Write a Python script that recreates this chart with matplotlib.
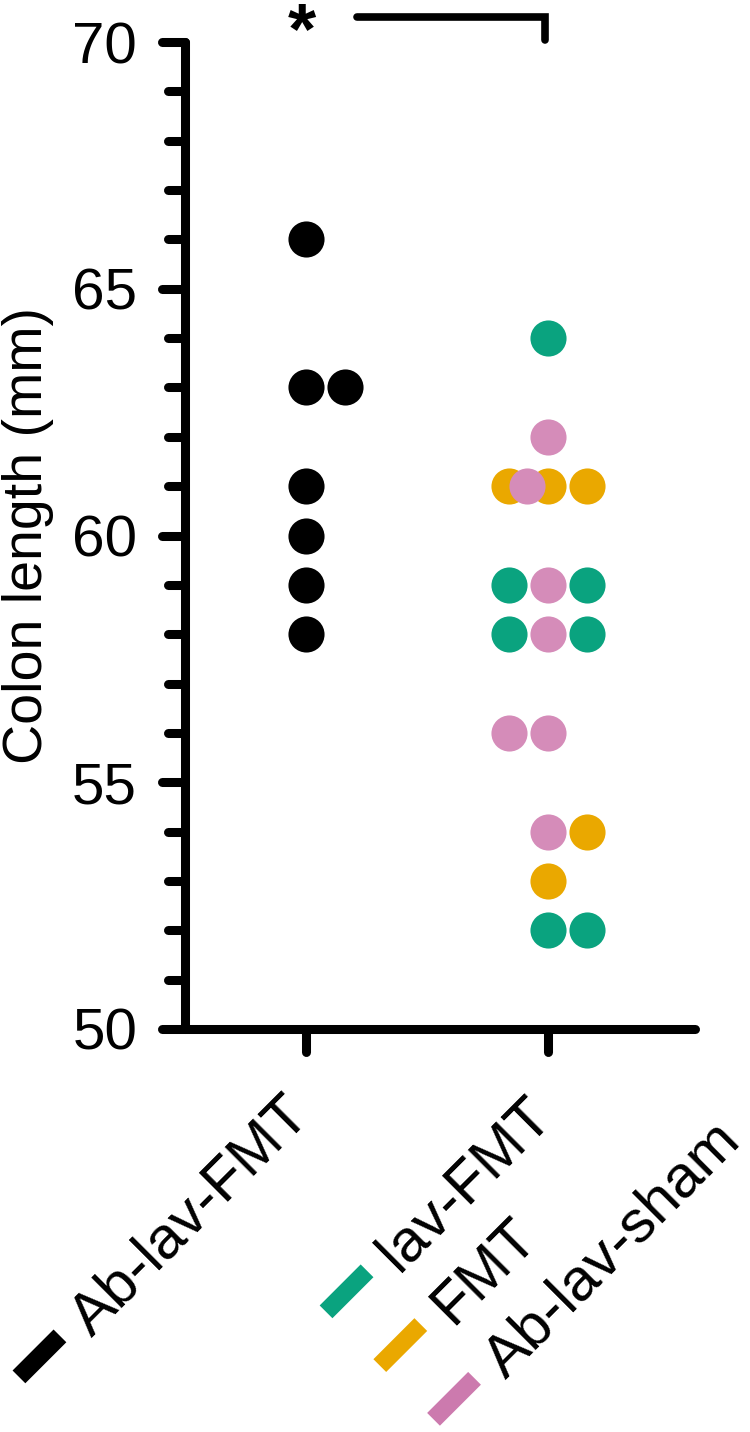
import numpy as np
import matplotlib
matplotlib.use("Agg")
import matplotlib.pyplot as plt
from matplotlib.lines import Line2D
from matplotlib.markers import MarkerStyle, TICKLEFT, TICKDOWN
from matplotlib.transforms import IdentityTransform

plt.rcParams['font.family'] = ['Liberation Sans', 'DejaVu Sans']

# groups on the x axis
groups = ["Ab-lav-FMT", "mix"]

# Ab-lav-FMT (black), group 0
ablav_vals = [66, 63, 63, 61, 60, 59, 58]
ablav_slot = [0, 0, 1, 0, 0, 0, 0]

# group 1 contains three treatments
lav_vals = [64, 59, 59, 58, 58, 52, 52]
lav_slot = [0, -1, 1, -1, 1, 0, 1]
fmt_vals = [61, 61, 61, 54, 53]
fmt_slot = [-1, 0, 1, 1, 0]
sham_vals = [62, 61, 59, 58, 56, 56, 54]
sham_slot = [0, -0.55, 0, 0, -1, 0, 0]

c_black = "#000000"
c_green = "#0AA37F"
c_orange = "#EAA800"
c_pink = "#D58CB9"

W, H = 750, 1432
fig = plt.figure(figsize=(W / 100, H / 100), dpi=100)
ax = fig.add_axes([185 / W, 1 - 1029 / H, 510 / W, 987 / H])

step = 0.161
msize = 26 ** 2

def draw(group, vals, slots, color):
    xs = [group + s * step for s in slots]
    ax.scatter(xs, vals, s=msize, color=color, linewidths=0, zorder=3, clip_on=False)

draw(0, ablav_vals, ablav_slot, c_black)
draw(1, lav_vals, lav_slot, c_green)
draw(1, fmt_vals, fmt_slot, c_orange)
draw(1, sham_vals, sham_slot, c_pink)

ax.set_xlim(-0.5, 1.607)
ax.set_ylim(50, 70)

for s in ["top", "right"]:
    ax.spines[s].set_visible(False)
for s in ["left", "bottom"]:
    ax.spines[s].set_linewidth(6.5)
    ax.spines[s].set_capstyle("round")

ax.set_yticks([50, 55, 60, 65, 70])
ax.set_yticks(np.arange(50, 71, 1), minor=True)
ax.set_xticks([0, 1])
ax.set_xticklabels([])
ax.tick_params(axis="y", which="major", length=16.5, width=6.5, pad=18, labelsize=42)
ax.tick_params(axis="y", which="minor", length=12, width=6.5)
ax.tick_params(axis="x", which="major", length=16.5, width=6.5)

for t in ax.yaxis.get_ticklines(minor=False) + ax.yaxis.get_ticklines(minor=True):
    t.set_marker(MarkerStyle(TICKLEFT, capstyle="round"))
for t in ax.xaxis.get_ticklines():
    t.set_marker(MarkerStyle(TICKDOWN, capstyle="round"))

ax.set_ylabel("Colon length (mm)", fontsize=40, va="center")
ax.yaxis.set_label_coords(-0.308, 0.5)

# significance bracket
ax.plot([0.21, 0.988, 0.988], [70.5, 70.5, 70.05], color="black", lw=5.5,
        solid_capstyle="round", solid_joinstyle="miter", clip_on=False)
ax.text(-0.017, 69.78, "*", fontsize=52, fontweight="bold", ha="center",
        va="baseline", clip_on=False)

# rotated category labels with colour bars
u = np.array([1, 1]) / np.sqrt(2)
d = np.array([1, -1]) / np.sqrt(2)
label_rows = [
    (0, -420, 0, "Ab-lav-FMT", c_black),
    (1, -328, 0, "lav-FMT", c_green),
    (1, -328, 1, "FMT", c_orange),
    (1, -328, 2, "Ab-lav-sham", "#CC7AAE"),
]
for g, along, row, txt, col in label_rows:
    tick = ax.transData.transform((g, 50))
    c = tick + along * u + (43 + 76 * row) * d
    p0, p1 = c - 29 * u, c + 29 * u
    fig.add_artist(Line2D([p0[0], p1[0]], [p0[1], p1[1]], transform=IdentityTransform(),
                          color=col, lw=13, solid_capstyle="butt"))
    a = c + 50 * u + 23 * d
    fig.text(a[0], a[1], txt, transform=IdentityTransform(), fontsize=43,
             rotation=45, rotation_mode="anchor", ha="left", va="baseline")

fig.savefig("out.png", dpi=100)
